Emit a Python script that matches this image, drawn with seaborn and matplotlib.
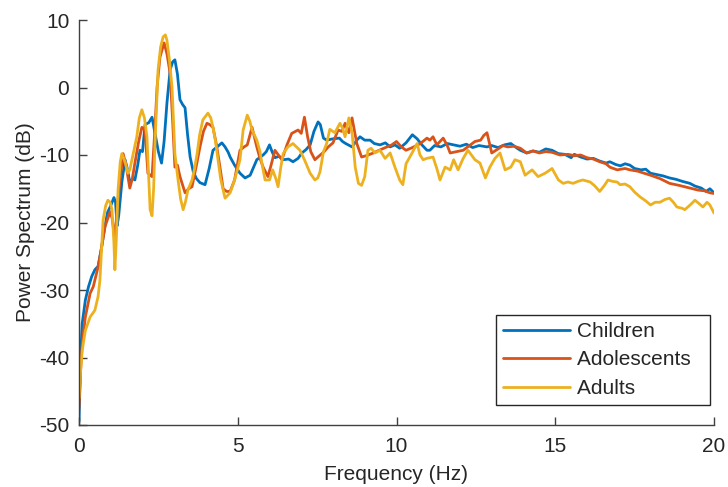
import matplotlib
matplotlib.use("Agg")
import matplotlib.pyplot as plt
import numpy as np
import pandas as pd
import seaborn as sns

# values
children_f = [0.0, 0.05, 0.1, 0.2, 0.3, 0.4, 0.5, 0.6, 0.7, 0.8, 0.9, 1.0, 1.1, 1.15, 1.2, 1.25, 1.35, 1.45,
              1.52, 1.6, 1.7, 1.76, 1.85, 1.92, 2.0, 2.08, 2.2, 2.3, 2.39, 2.5, 2.6, 2.68, 2.77, 2.87, 2.95,
              3.02, 3.1, 3.18, 3.26, 3.34, 3.42, 3.5, 3.6, 3.7, 3.81, 3.97, 4.1, 4.22, 4.35, 4.5, 4.6, 4.7,
              4.76, 4.9, 5.07, 5.23, 5.39, 5.5, 5.6, 5.8, 5.9, 6.0, 6.08, 6.17, 6.3, 6.43, 6.6, 6.74, 6.9,
              7.02, 7.15, 7.28, 7.4, 7.53, 7.6, 7.7, 7.8, 8.0, 8.2, 8.3, 8.4, 8.6, 8.75, 8.85, 9.0, 9.17,
              9.3, 9.48, 9.65, 9.8, 9.95, 10.1, 10.3, 10.5, 10.65, 10.8, 10.96, 11.05, 11.2, 11.4, 11.6,
              11.8, 12.0, 12.2, 12.4, 12.6, 12.85, 13.0, 13.2, 13.4, 13.6, 13.8, 13.9, 14.1, 14.3, 14.5,
              14.7, 14.9, 15.1, 15.3, 15.5, 15.6, 15.8, 16.0, 16.2, 16.4, 16.6, 16.72, 16.9, 17.05, 17.2,
              17.35, 17.5, 17.7, 17.85, 18.0, 18.2, 18.4, 18.6, 18.8, 19.0, 19.24, 19.4, 19.6, 19.75,
              19.87, 20.0]
children_db = [-49.5, -40, -35, -31.5, -29.5, -28, -27, -26.5, -24, -21, -18.5, -17.5, -16.3, -17, -20.5,
               -19, -14, -10.7, -12, -14, -13.5, -13.7, -11.5, -9.3, -9.5, -5.5, -5.2, -4.4, -6.7, -9.5,
               -11.2, -8, -2.3, 2.6, 3.8, 4.1, 2, -1.8, -2.5, -3, -7, -10.3, -12.5, -13.5, -14.1, -14.4,
               -12, -9.3, -8.8, -8.2, -8.8, -9.6, -10.3, -11.5, -12.7, -13.4, -13, -11.8, -10.7, -10,
               -9.5, -8.5, -9.5, -10.4, -10.2, -10.7, -10.6, -11, -10.5, -9.7, -9.2, -8.5, -6.5, -5.1,
               -5.5, -7.5, -7.8, -7.6, -7.5, -8.0, -8.3, -8.8, -7.8, -7.3, -7.8, -7.8, -8.3, -8.5, -8.2,
               -8.8, -8.5, -9.0, -8.2, -7.0, -7.6, -8.5, -9.3, -9.3, -8.6, -8.8, -8.3, -8.5, -8.7, -8.4,
               -8.9, -8.6, -8.8, -8.6, -8.9, -8.5, -8.3, -9.0, -9.3, -9.7, -9.4, -9.6, -9.1, -9.3, -9.8,
               -9.9, -10.4, -9.9, -10.3, -10.6, -10.5, -10.9, -11.2, -11.0, -11.4, -11.6, -11.3, -11.5,
               -12.0, -12.2, -12.1, -12.7, -12.9, -13.1, -13.4, -13.6, -13.9, -14.2, -14.6, -14.9, -15.4,
               -15.0, -15.6]

adolescents_f = [0.0, 0.05, 0.1, 0.2, 0.35, 0.45, 0.6, 0.7, 0.82, 0.9, 0.98, 1.05, 1.13, 1.2, 1.29, 1.39,
                 1.48, 1.6, 1.68, 1.76, 1.88, 1.98, 2.08, 2.17, 2.3, 2.38, 2.46, 2.55, 2.68, 2.77, 2.87,
                 2.95, 3.02, 3.1, 3.18, 3.34, 3.45, 3.56, 3.7, 3.81, 3.92, 4.03, 4.12, 4.22, 4.33, 4.44,
                 4.54, 4.65, 4.76, 4.9, 5.07, 5.2, 5.3, 5.45, 5.6, 5.7, 5.8, 5.95, 6.05, 6.17, 6.28, 6.39,
                 6.55, 6.7, 6.9, 7.0, 7.1, 7.2, 7.3, 7.43, 7.55, 7.7, 7.85, 8.0, 8.16, 8.28, 8.38, 8.5,
                 8.6, 8.75, 8.9, 9.05, 9.27, 9.5, 9.7, 9.85, 10.0, 10.15, 10.3, 10.5, 10.75, 10.96, 11.05,
                 11.15, 11.27, 11.47, 11.6, 11.69, 11.9, 12.1, 12.3, 12.47, 12.65, 12.75, 12.85, 13.0,
                 13.2, 13.35, 13.5, 13.7, 13.9, 14.1, 14.3, 14.5, 14.7, 14.9, 15.15, 15.4, 15.6, 15.8,
                 16.0, 16.2, 16.4, 16.6, 16.72, 16.95, 17.2, 17.35, 17.6, 17.8, 18.0, 18.3, 18.6, 18.9,
                 19.24, 19.5, 19.7, 19.87, 20.0]
adolescents_db = [-47.5, -42, -38, -34, -30.5, -29.5, -26.6, -24, -20.6, -19.5, -18.4, -19.5, -22.6, -18,
                  -13.7, -9.8, -11.5, -14.9, -13.5, -11.2, -8, -5.9, -6.3, -12.7, -13.2, -7, 0.1, 4.5,
                  6.6, 5, 2.1, -5, -11.8, -11.5, -13.2, -15.6, -15, -14.7, -11.5, -8.8, -6.5, -5.3, -5.5,
                  -5.9, -8.5, -11.8, -15.0, -15.4, -15.4, -13.7, -9.3, -8.8, -8.5, -5.9, -8.8, -10.5,
                  -11.8, -13.2, -11.5, -9.3, -10, -10.7, -8.5, -6.8, -6.3, -6.8, -4.4, -7.3, -9.5, -10.7,
                  -10.2, -9.6, -8.8, -8.2, -6.3, -6.5, -5.3, -6.7, -4.5, -8.3, -10.3, -10.1, -9.7, -9.2,
                  -8.8, -8.5, -8.0, -8.8, -9.3, -8.9, -8.3, -7.5, -7.8, -7.3, -8.5, -7.5, -8.6, -9.7,
                  -9.5, -9.3, -8.6, -8.0, -7.8, -7.1, -6.7, -9.7, -9.1, -8.6, -8.8, -8.7, -9.0, -9.7,
                  -9.4, -9.7, -9.5, -9.6, -10.0, -9.9, -10.1, -10.0, -10.4, -10.6, -11.0, -11.3, -11.8,
                  -12.2, -12.0, -12.2, -12.4, -12.7, -13.0, -13.5, -14.2, -14.5, -14.9, -15.2, -15.3,
                  -15.6, -15.7]

adults_f = [0.0, 0.05, 0.1, 0.2, 0.35, 0.5, 0.6, 0.66, 0.72, 0.76, 0.84, 0.91, 0.98, 1.04, 1.1, 1.13, 1.18,
            1.23, 1.3, 1.35, 1.45, 1.54, 1.6, 1.7, 1.82, 1.9, 1.98, 2.06, 2.14, 2.2, 2.24, 2.3, 2.35, 2.39,
            2.45, 2.49, 2.57, 2.65, 2.72, 2.77, 2.85, 2.93, 3.02, 3.12, 3.2, 3.28, 3.35, 3.43, 3.56, 3.64,
            3.72, 3.8, 3.9, 4.06, 4.15, 4.22, 4.3, 4.38, 4.46, 4.54, 4.6, 4.68, 4.76, 4.9, 5.0, 5.07, 5.17,
            5.3, 5.38, 5.45, 5.6, 5.7, 5.76, 5.86, 6.0, 6.1, 6.2, 6.27, 6.35, 6.43, 6.58, 6.74, 6.85, 6.96,
            7.1, 7.28, 7.43, 7.52, 7.59, 7.7, 7.8, 7.9, 8.06, 8.22, 8.3, 8.38, 8.5, 8.6, 8.7, 8.8, 8.9,
            9.0, 9.1, 9.2, 9.32, 9.48, 9.64, 9.8, 9.95, 10.1, 10.2, 10.3, 10.49, 10.65, 10.74, 10.84,
            10.95, 11.15, 11.27, 11.37, 11.53, 11.69, 11.8, 11.94, 12.1, 12.25, 12.47, 12.63, 12.8,
            12.94, 13.1, 13.26, 13.42, 13.6, 13.73, 13.9, 14.05, 14.27, 14.46, 14.68, 14.9, 15.1, 15.25,
            15.4, 15.56, 15.72, 15.87, 16.1, 16.25, 16.4, 16.55, 16.66, 16.8, 16.95, 17.04, 17.2, 17.35,
            17.5, 17.67, 17.85, 18.0, 18.15, 18.3, 18.45, 18.6, 18.72, 18.83, 19.0, 19.08, 19.25, 19.4,
            19.53, 19.65, 19.78, 19.87, 20.0]
adults_db = [-46, -42, -39, -36, -34, -33, -31, -28.5, -23, -19.6, -17.5, -16.7, -17, -18.1, -23, -27, -22,
             -15.2, -11, -9.8, -11, -12.7, -12.2, -10, -7.3, -4.5, -3.3, -4.5, -7.3, -14, -18.1, -19, -15,
             -8.8, -2, 2.6, 6, 7.5, 7.8, 7.0, 4, 0.1, -9.8, -13.7, -16.5, -18.1, -17, -15.2, -13.7, -12,
             -9.8, -7, -4.8, -3.8, -4.5, -5.9, -8, -10.7, -13.5, -15.2, -16.4, -16, -15.6, -13.7, -12,
             -10.7, -6.3, -4.1, -5, -6.3, -7.8, -9.5, -11.2, -13.7, -13.7, -12.2, -13.5, -14.7, -12,
             -9.8, -8.8, -8.3, -8.8, -9.3, -10.7, -12.7, -13.7, -13.4, -12.5, -9.5, -8.3, -6.2, -6.7,
             -5.3, -6.0, -7.3, -4.5, -6.7, -11.8, -14.2, -14.5, -13.2, -9.3, -9.0, -9.7, -9.3, -10.5,
             -9.7, -11.8, -13.7, -14.4, -11.3, -9.7, -8.3, -10, -10.7, -10.5, -10.3, -12, -13.7, -11.8,
             -12.2, -10.7, -12.2, -10.5, -9.3, -10.7, -11.2, -13.4, -11.8, -10.5, -9.7, -12.2, -11.8,
             -10.7, -11.0, -13.0, -12.2, -13.2, -12.7, -12.0, -13.7, -14.2, -14.0, -14.2, -13.9, -13.7,
             -14.0, -14.6, -15.4, -14.5, -13.7, -13.9, -14.0, -14.4, -14.3, -14.7, -15.5, -16.2, -16.8,
             -17.4, -17.0, -17.0, -16.6, -16.4, -17.0, -17.7, -17.9, -18.1, -17.4, -16.7, -17.2, -17.7,
             -17.0, -17.4, -18.6]

groups = ["Children", "Adolescents", "Adults"]
colors = ["#0072BD", "#D95319", "#EDB120"]

df = pd.concat([
    pd.DataFrame({"f": children_f, "db": children_db, "group": "Children"}),
    pd.DataFrame({"f": adolescents_f, "db": adolescents_db, "group": "Adolescents"}),
    pd.DataFrame({"f": adults_f, "db": adults_db, "group": "Adults"}),
])

sns.set_style("white")
plt.rcParams['font.family'] = ['Liberation Sans', 'DejaVu Sans']
plt.rcParams['axes.unicode_minus'] = False

fig = plt.figure(figsize=(7.28, 4.87), dpi=100)
ax = fig.add_axes([79 / 728, 1 - 425 / 487, 635 / 728, 405 / 487])
sns.lineplot(data=df, x="f", y="db", hue="group", hue_order=groups, palette=colors,
             estimator=None, sort=False, linewidth=2.0, ax=ax)

ax.set_xlim(0, 20)
ax.set_ylim(-50, 10)
ax.set_xticks([0, 5, 10, 15, 20])
ax.set_yticks([-50, -40, -30, -20, -10, 0, 10])
ax.set_xlabel("Frequency (Hz)", fontsize=15, color="#262626", labelpad=6)
ax.set_ylabel("Power Spectrum (dB)", fontsize=15, color="#262626", labelpad=3)
ax.tick_params(bottom=True, left=True, direction="in", length=6, width=1, labelsize=15,
               colors="#404040", labelcolor="#262626")
ax.tick_params(axis="x", pad=9)
ax.tick_params(axis="y", pad=7)
for s in ["top", "right"]:
    ax.spines[s].set_visible(False)
for s in ["left", "bottom"]:
    ax.spines[s].set_color("#404040")
    ax.spines[s].set_linewidth(1)

# matlab style legend has extra room on the right of the labels
handles, labels = ax.get_legend_handles_labels()
leg = ax.legend(handles, [lab + "  " for lab in labels], loc="lower right",
                bbox_to_anchor=(0.9937, 0.049), borderaxespad=0, fontsize=15,
                frameon=True, fancybox=False, edgecolor="#262626", framealpha=1, handlelength=3.2,
                labelspacing=0.45, borderpad=0.35, handletextpad=0.35)
leg.get_frame().set_linewidth(1)
for line in leg.get_lines():
    line.set_linewidth(2.0)

fig.savefig("out.png", dpi=100)
